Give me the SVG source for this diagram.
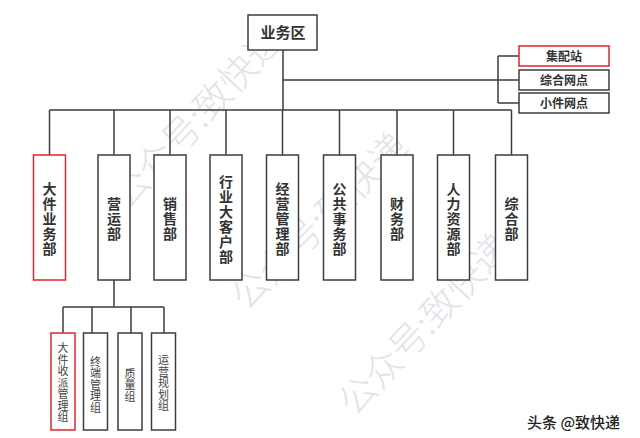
<svg xmlns="http://www.w3.org/2000/svg" width="640" height="438" viewBox="0 0 640 438">
<style>
.wm{font-family:"Noto Sans CJK SC","Noto Sans",sans-serif;font-size:37px;font-weight:300;fill:#dfe4ea;text-anchor:middle}
.box{fill:#fff;stroke:#3d3d3d;stroke-width:1.5}
.red{fill:#fff;stroke:#e0262a;stroke-width:1.5}
.ln{fill:none;stroke:#3d3d3d;stroke-width:1.5}
.t{font-family:"Noto Sans CJK SC","Noto Sans",sans-serif;font-weight:bold;fill:#333;text-anchor:middle}
.d{font-size:14px;writing-mode:vertical-rl;letter-spacing:1px}
.s{font-size:12px}
.sub{font-family:"Noto Sans CJK SC","Noto Sans",sans-serif;font-size:11px;fill:#444;text-anchor:middle;writing-mode:vertical-rl;letter-spacing:0.5px}
</style>
<rect width="640" height="438" fill="#fff"/>
<g id="watermarks">
<text class="wm" transform="translate(198,118) rotate(-47)" dy="12">公众号:致快递</text>
<text class="wm" transform="translate(320,222) rotate(-45)" dy="12">公众号:致快递</text>
<text class="wm" transform="translate(425,325) rotate(-47)" dy="12">公众号:致快递</text>
</g>
<g id="connectors">
<path class="ln" d="M283,50V110M283,80H519M498,56V103M498,56H519M498,103H519"/>
<path class="ln" d="M49.5,110H511.5M49.5,110V155M114,110V155M170,110V155M226,110V155M282.5,110V155M339.5,110V155M397,110V155M453.5,110V155M511.5,110V155"/>
<path class="ln" d="M114,280V307M63,307H164M63,307V333M92,307V333M131,307V333M164,307V333"/>
</g>
<g id="n-yewuqu"><rect class="box" x="248" y="15" width="69" height="35"/><text class="t" x="283" y="38" font-size="15">业务区</text></g>
<g id="n-jipeizhan"><rect class="red" x="519" y="46" width="90" height="20"/><text class="t s" x="564" y="60.5">集配站</text></g>
<g id="n-zonghewangdian"><rect class="box" x="519" y="70" width="90" height="20"/><text class="t s" x="564" y="84.5">综合网点</text></g>
<g id="n-xiaojianwangdian"><rect class="box" x="519" y="93" width="90" height="20"/><text class="t s" x="564" y="107.5">小件网点</text></g>
<g id="n-dajianyewubu"><rect class="red" x="33.5" y="155" width="32" height="125"/><text class="t d" x="49.5" y="219.5">大件业务部</text></g>
<g id="n-yingyunbu"><rect class="box" x="98" y="155" width="32" height="125"/><text class="t d" x="114" y="219">营运部</text></g>
<g id="n-xiaoshoubu"><rect class="box" x="154" y="155" width="32" height="125"/><text class="t d" x="170" y="219">销售部</text></g>
<g id="n-hangyedakehubu"><rect class="box" x="210" y="155" width="32" height="125"/><text class="t d" x="226" y="219.5">行业大客户部</text></g>
<g id="n-jingyingguanlibu"><rect class="box" x="266.5" y="155" width="32" height="125"/><text class="t d" x="282.5" y="219.5">经营管理部</text></g>
<g id="n-gonggongshiwubu"><rect class="box" x="323.5" y="155" width="32" height="125"/><text class="t d" x="339.5" y="219.5">公共事务部</text></g>
<g id="n-caiwubu"><rect class="box" x="381" y="155" width="32" height="125"/><text class="t d" x="397" y="219">财务部</text></g>
<g id="n-renliziyuanbu"><rect class="box" x="437.5" y="155" width="32" height="125"/><text class="t d" x="453.5" y="219.5">人力资源部</text></g>
<g id="n-zonghebu"><rect class="box" x="495.5" y="155" width="32" height="125"/><text class="t d" x="511.5" y="219">综合部</text></g>
<g id="n-dajianshoupai"><rect class="red" x="51" y="333" width="24" height="97"/><text class="sub" x="63" y="383">大件收派管理组</text></g>
<g id="n-zhongduan"><rect class="box" x="83.5" y="333" width="24" height="97"/><text class="sub" x="95.5" y="385">终端管理组</text></g>
<g id="n-zhiliang"><rect class="box" x="118" y="333" width="24" height="97"/><text class="sub" x="130" y="385.5">质量组</text></g>
<g id="n-yunyingguihua"><rect class="box" x="151.5" y="333" width="24" height="97"/><text class="sub" x="163.5" y="383.5">运营规划组</text></g>
<text x="527" y="428" font-family="'Noto Sans CJK SC','Noto Sans',sans-serif" font-size="15" font-weight="500" fill="#222">头条 @致快递</text>
</svg>
